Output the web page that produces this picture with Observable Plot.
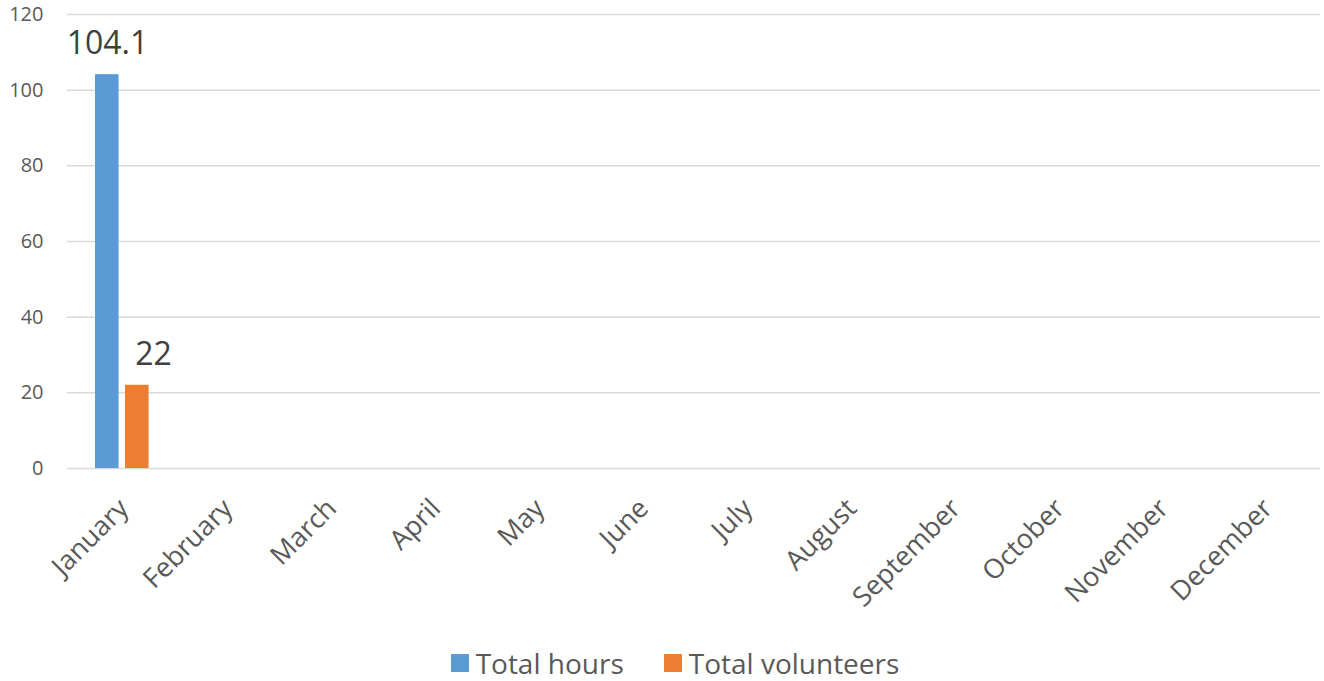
<!DOCTYPE html>
<html>
<head>
<meta charset="utf-8">
<script src="https://cdn.jsdelivr.net/npm/d3@7"></script>
<script src="https://cdn.jsdelivr.net/npm/@observablehq/plot@0.6"></script>
<style>
  html, body { margin: 0; padding: 0; background: #fff; }
  body { width: 1324px; height: 681px; overflow: hidden; font-family: "Open Sans", sans-serif; }
  #legend { display: flex; justify-content: center; align-items: center; height: 41px; padding-left: 26px; padding-top: 4px; box-sizing: border-box; color: #595959; font-size: 28px; }
  .item { display: flex; align-items: center; }
  .item + .item { margin-left: 40px; }
  .sw { width: 18px; height: 18px; margin-right: 7px; }
</style>
</head>
<body>
<div id="chart"></div>
<div id="legend"></div>
<script>
const months = ["January","February","March","April","May","June","July","August","September","October","November","December"];
const totalHours = [104.1, null, null, null, null, null, null, null, null, null, null, null];
const totalVolunteers = [22, null, null, null, null, null, null, null, null, null, null, null];
const seriesNames = ["Total hours", "Total volunteers"];
const seriesColors = ["#5B9BD5", "#ED7D31"];
const yTicks = [0, 20, 40, 60, 80, 100, 120];

const hoursRows = months.map((m, i) => ({month: m, series: seriesNames[0], value: totalHours[i]})).filter(d => d.value != null);
const volRows = months.map((m, i) => ({month: m, series: seriesNames[1], value: totalVolunteers[i]})).filter(d => d.value != null);

const W = 1324, H = 640;
const mL = 67, mR = 4, mT = 14, mB = H - 468;
const step = (W - mL - mR) / months.length;

const chart = Plot.plot({
  width: W,
  height: H,
  marginLeft: mL,
  marginRight: mR,
  marginTop: mT,
  marginBottom: mB,
  style: {fontFamily: "'Open Sans', sans-serif", background: "#fff"},
  x: {type: "band", domain: months, padding: 0, axis: null},
  y: {domain: [0, 120], axis: null},
  marks: [
    Plot.ruleY(yTicks, {stroke: "#d9d9d9", strokeWidth: 1.5}),
    Plot.barY(hoursRows, {x: "month", y: "value", fill: seriesColors[0], insetLeft: 25, insetRight: step - 49}),
    Plot.barY(volRows, {x: "month", y: "value", fill: seriesColors[1], insetLeft: 55, insetRight: step - 79}),
    Plot.text(hoursRows, {x: "month", y: "value", text: d => String(d.value), dx: -15, dy: -31, fontSize: 32, fill: "#404040"}),
    Plot.text(volRows, {x: "month", y: "value", text: d => String(d.value), dx: 31, dy: -31, fontSize: 32, fill: "#404040"}),
    Plot.text(yTicks, {y: d => d, text: d => String(d), frameAnchor: "left", textAnchor: "end", dx: -24, fontSize: 20, fill: "#595959"}),
    Plot.text(months, {x: d => d, text: d => d, frameAnchor: "bottom", textAnchor: "end", lineAnchor: "top", rotate: -45, dx: -6, dy: 28, fontSize: 27, fill: "#595959"})
  ]
});
document.getElementById("chart").appendChild(chart);

const legend = document.getElementById("legend");
seriesNames.forEach((name, i) => {
  const item = document.createElement("div");
  item.className = "item";
  const sw = document.createElement("div");
  sw.className = "sw";
  sw.style.background = seriesColors[i];
  const label = document.createElement("span");
  label.textContent = name;
  item.appendChild(sw);
  item.appendChild(label);
  legend.appendChild(item);
});
</script>
</body>
</html>
